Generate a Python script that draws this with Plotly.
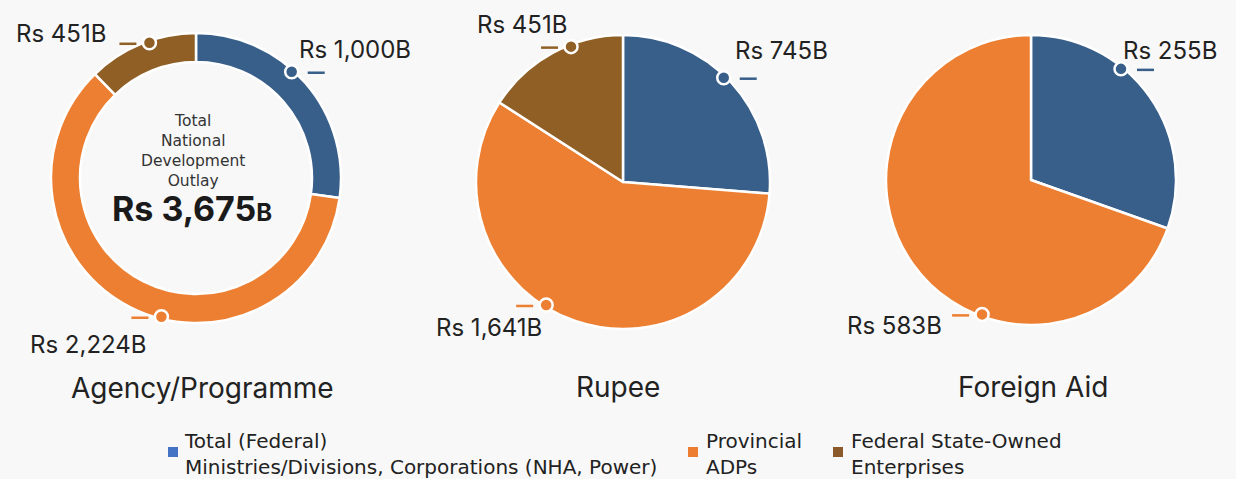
import math
import plotly.graph_objects as go

W, H = 1236, 479

# ---- data ----
categories = ["Total (Federal) Ministries/Divisions, Corporations (NHA, Power)",
              "Provincial ADPs", "Federal State-Owned Enterprises"]
agency_values = [1000, 2224, 451]
rupee_values = [745, 1641, 451]
foreign_values = [255, 583]
pie_titles = ["Agency/Programme", "Rupee", "Foreign Aid"]
total_outlay = 3675

slice_colors = ["#385E8A", "#ED7F32", "#8F5F26"]
legend_colors = ["#4472C4", "#ED7D31", "#8B5A2B"]
legend_texts = ["Total (Federal)<br>Ministries/Divisions, Corporations (NHA, Power)",
                "Provincial<br>ADPs", "Federal State-Owned<br>Enterprises"]

# ---- layout geometry (pixels) ----
centers = [(196, 178), (623, 182), (1031, 180)]
radii = [145, 147, 145]
FONT = "Inter"

fig = go.Figure()

def dom(cx, cy, r):
    return dict(x=[(cx - r) / W, (cx + r) / W], y=[1 - (cy + r) / H, 1 - (cy - r) / H])

all_values = [agency_values, rupee_values, foreign_values]
for i, vals in enumerate(all_values):
    cx, cy = centers[i]
    fig.add_trace(go.Pie(
        values=vals, labels=categories[:len(vals)], sort=False, direction="clockwise",
        rotation=0, hole=0.8 if i == 0 else 0,
        marker=dict(colors=slice_colors[:len(vals)], line=dict(color="white", width=2.5)),
        textinfo="none", hoverinfo="label+value", showlegend=False,
        domain=dom(cx, cy, radii[i])))

# label placement: pie idx, slice idx, dot angle (deg clockwise from top), dash side, text pos, xanchor
label_specs = [
    (0, 0, 42, "right", (297, 49), "left"),
    (0, 2, 341, "left", (108, 33), "right"),
    (0, 1, 194, "left", (149, 344), "right"),
    (1, 0, 44, "right", (733, 50), "left"),
    (1, 2, 339, "left", (569, 24), "right"),
    (1, 1, 212, "left", (544, 327), "right"),
    (2, 0, 39, "right", (1121, 50), "left"),
    (2, 1, 200, "left", (944, 325), "right"),
]

for (pi, si, ang, side, (tx, ty), xa) in label_specs:
    cx, cy = centers[pi]
    r = radii[pi] - 2
    a = math.radians(ang)
    x = cx + r * math.sin(a)
    y = cy - r * math.cos(a)
    if side == "right":
        x0, x1 = x + 16, x + 33
    else:
        x0, x1 = x - 30, x - 13
    fig.add_shape(type="line", xref="x", yref="y", x0=x0, x1=x1, y0=y + 1, y1=y + 1,
                  layer="above", line=dict(color=slice_colors[si], width=2.5))
    rd = 6.5
    fig.add_shape(type="circle", xref="x", yref="y", x0=x - rd, x1=x + rd, y0=y - rd, y1=y + rd,
                  layer="above", fillcolor=slice_colors[si], line=dict(color="white", width=2.5))
    val = all_values[pi][si]
    fig.add_annotation(x=tx, y=ty, xref="x", yref="y", xanchor=xa, yanchor="middle",
                       text=f"Rs {val:,}B", showarrow=False,
                       font=dict(family=FONT, size=24, color="#222222"))

# center text of donut
fig.add_annotation(x=193, y=151, xref="x", yref="y", showarrow=False, align="center",
                   text="Total<br>National<br>Development<br>Outlay",
                   font=dict(family="DejaVu Sans", size=15.5, color="#333333"))
fig.add_annotation(x=192, y=208, xref="x", yref="y", showarrow=False,
                   text=f"<b>Rs {total_outlay:,}<span style='font-size:24px'>B</span></b>",
                   font=dict(family=FONT, size=34, color="#1a1a1a"))

# titles
title_pos = [(202, 388), (618, 387), (1033, 387)]
for t, (x, y) in zip(pie_titles, title_pos):
    fig.add_annotation(x=x, y=y, xref="x", yref="y", text=t, showarrow=False,
                       font=dict(family=FONT, size=28, color="#222222"))

# legend
leg_pos = [(173, 182), (693, 704), (838, 849)]
for (sx, tx), t, c in zip(leg_pos, legend_texts, legend_colors):
    fig.add_shape(type="rect", xref="x", yref="y", x0=sx - 5, x1=sx + 5, y0=447, y1=457,
                  layer="above", fillcolor=c, line=dict(width=0))
    fig.add_annotation(x=tx, y=454, xref="x", yref="y", xanchor="left", yanchor="middle",
                       align="left", text=t, showarrow=False,
                       font=dict(family="DejaVu Sans", size=20, color="#222222"))

fig.update_layout(
    width=W, height=H, margin=dict(l=0, r=0, t=0, b=0),
    paper_bgcolor="#f8f8f8", plot_bgcolor="rgba(0,0,0,0)",
    xaxis=dict(range=[0, W], visible=False, fixedrange=True, domain=[0, 1]),
    yaxis=dict(range=[H, 0], visible=False, fixedrange=True, domain=[0, 1]),
)

fig.write_html("out.html", config={"displayModeBar": False},
               post_script="document.body.style.margin='0px';document.body.style.overflow='hidden';")
